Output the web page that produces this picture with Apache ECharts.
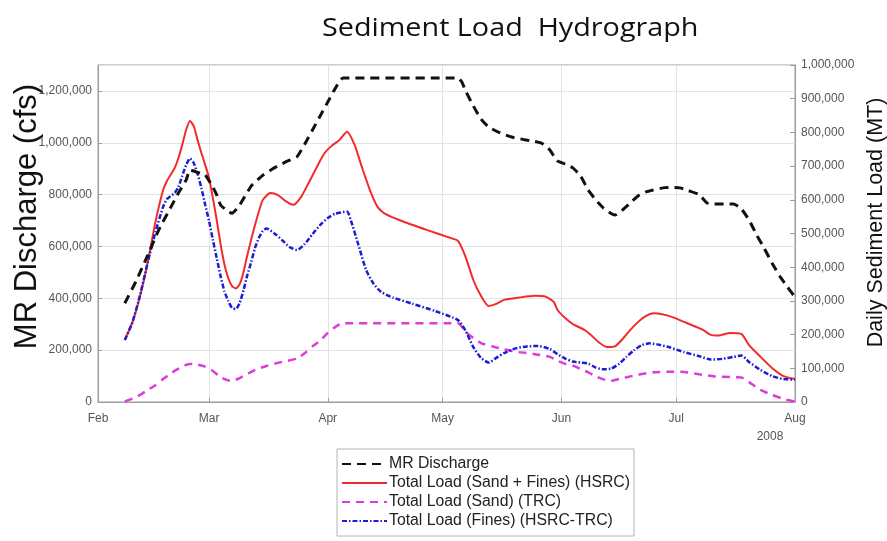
<!DOCTYPE html>
<html>
<head>
<meta charset="utf-8">
<title>Sediment Load Hydrograph</title>
<script src="https://cdn.jsdelivr.net/npm/echarts@6/dist/echarts.min.js"></script>
<style>
  html, body { margin: 0; padding: 0; background: #ffffff; }
  #chart { width: 887px; height: 541px; }
</style>
</head>
<body>
<div id="chart"></div>
<script>
// Month boundaries for the x axis (2008) and their labels
const monthTicks = ['2008-02-01', '2008-03-01', '2008-04-01', '2008-05-01', '2008-06-01', '2008-07-01', '2008-08-01'];
const monthLabels = ['Feb', 'Mar', 'Apr', 'May', 'Jun', 'Jul', 'Aug'];
const yearLabel = '2008';
const chartTitle = 'Sediment Load  Hydrograph';

// Mississippi River discharge (cfs), left axis
const mrDischarge = [
  ['2008-02-08', 381000], ['2008-02-11', 468000], ['2008-02-14', 567000], ['2008-02-17', 668000],
  ['2008-02-20', 751000], ['2008-02-22', 806000], ['2008-02-24', 856000], ['2008-02-25', 895000],
  ['2008-02-26', 891000], ['2008-02-28', 881000], ['2008-02-29', 876000], ['2008-03-02', 829000],
  ['2008-03-03', 799000], ['2008-03-04', 760000], ['2008-03-06', 735000], ['2008-03-07', 728000],
  ['2008-03-09', 760000], ['2008-03-12', 833000], ['2008-03-15', 874000], ['2008-03-18', 903000],
  ['2008-03-21', 926000], ['2008-03-24', 947000], ['2008-03-26', 995000], ['2008-03-28', 1049000],
  ['2008-03-30', 1103000], ['2008-04-01', 1157000], ['2008-04-03', 1211000], ['2008-04-05', 1250000],
  ['2008-05-05', 1250000], ['2008-05-06', 1234000], ['2008-05-07', 1200000], ['2008-05-09', 1142000],
  ['2008-05-11', 1092000], ['2008-05-13', 1061000], ['2008-05-16', 1038000], ['2008-05-19', 1022000],
  ['2008-05-22', 1013000], ['2008-05-25', 1005000], ['2008-05-27', 997000], ['2008-05-29', 972000],
  ['2008-05-30', 949000], ['2008-05-31', 930000], ['2008-06-02', 918000], ['2008-06-04', 903000],
  ['2008-06-06', 872000], ['2008-06-08', 818000], ['2008-06-10', 779000], ['2008-06-12', 748000],
  ['2008-06-14', 727000], ['2008-06-15', 721000], ['2008-06-17', 741000], ['2008-06-19', 768000],
  ['2008-06-21', 795000], ['2008-06-23', 810000], ['2008-06-25', 818000], ['2008-06-28', 827000],
  ['2008-06-30', 828000], ['2008-07-02', 826000], ['2008-07-04', 816000], ['2008-07-07', 800000],
  ['2008-07-09', 768000], ['2008-07-11', 764000], ['2008-07-14', 764000], ['2008-07-16', 764000],
  ['2008-07-18', 745000], ['2008-07-20', 702000], ['2008-07-22', 644000], ['2008-07-24', 592000],
  ['2008-07-26', 536000], ['2008-07-28', 486000], ['2008-07-30', 444000], ['2008-08-01', 405000]
];

// Total load, sand + fines (HSRC), metric tons per day, right axis
const totalLoadHSRC = [
  ['2008-02-08', 184000], ['2008-02-10', 237000], ['2008-02-12', 315000], ['2008-02-14', 415000],
  ['2008-02-16', 534000], ['2008-02-18', 629000], ['2008-02-19', 656000], ['2008-02-21', 694000],
  ['2008-02-22', 724000], ['2008-02-23', 763000], ['2008-02-24', 807000], ['2008-02-25', 834000],
  ['2008-02-26', 819000], ['2008-02-27', 777000], ['2008-02-28', 739000], ['2008-02-29', 703000],
  ['2008-03-01', 665000], ['2008-03-02', 605000], ['2008-03-03', 540000], ['2008-03-04', 469000],
  ['2008-03-05', 409000], ['2008-03-06', 368000], ['2008-03-07', 344000], ['2008-03-08', 337000],
  ['2008-03-09', 350000], ['2008-03-10', 386000], ['2008-03-11', 436000], ['2008-03-13', 525000],
  ['2008-03-15', 599000], ['2008-03-17', 620000], ['2008-03-19', 614000], ['2008-03-21', 596000],
  ['2008-03-23', 585000], ['2008-03-25', 608000], ['2008-03-27', 650000], ['2008-03-29', 694000],
  ['2008-03-31', 736000], ['2008-04-02', 760000], ['2008-04-04', 777000], ['2008-04-06', 802000],
  ['2008-04-08', 763000], ['2008-04-10', 694000], ['2008-04-12', 629000], ['2008-04-14', 579000],
  ['2008-04-16', 558000], ['2008-04-21', 534000], ['2008-04-27', 510000], ['2008-05-03', 487000],
  ['2008-05-05', 478000], ['2008-05-07', 430000], ['2008-05-09', 362000], ['2008-05-11', 315000],
  ['2008-05-13', 285000], ['2008-05-15', 291000], ['2008-05-17', 303000], ['2008-05-21', 310000],
  ['2008-05-25', 315000], ['2008-05-28', 312000], ['2008-05-30', 297000], ['2008-05-31', 273000],
  ['2008-06-02', 249000], ['2008-06-04', 231000], ['2008-06-07', 214000], ['2008-06-09', 196000],
  ['2008-06-11', 175000], ['2008-06-13', 163000], ['2008-06-15', 165000], ['2008-06-17', 187000],
  ['2008-06-19', 214000], ['2008-06-21', 237000], ['2008-06-23', 255000], ['2008-06-25', 263000],
  ['2008-06-27', 261000], ['2008-06-30', 252000], ['2008-07-04', 233000], ['2008-07-08', 214000],
  ['2008-07-10', 199000], ['2008-07-12', 197000], ['2008-07-15', 205000], ['2008-07-18', 202000],
  ['2008-07-20', 169000], ['2008-07-23', 134000], ['2008-07-26', 101000], ['2008-07-29', 77000],
  ['2008-08-01', 68000]
];

// Total load, sand only (TRC), right axis
const totalLoadSandTRC = [
  ['2008-02-08', 2000], ['2008-02-10', 10000], ['2008-02-12', 21000], ['2008-02-14', 36000],
  ['2008-02-16', 50000], ['2008-02-18', 68000], ['2008-02-20', 85000], ['2008-02-22', 99000],
  ['2008-02-24', 110000], ['2008-02-25', 113000], ['2008-02-27', 111000], ['2008-02-29', 105000],
  ['2008-03-02', 92000], ['2008-03-04', 74000], ['2008-03-06', 64000], ['2008-03-07', 62000],
  ['2008-03-09', 71000], ['2008-03-11', 83000], ['2008-03-13', 95000], ['2008-03-16', 107000],
  ['2008-03-20', 119000], ['2008-03-24', 129000], ['2008-03-26', 145000], ['2008-03-28', 165000],
  ['2008-03-30', 182000], ['2008-04-01', 205000], ['2008-04-03', 223000], ['2008-04-05', 234000],
  ['2008-05-05', 234000], ['2008-05-07', 208000], ['2008-05-09', 190000], ['2008-05-11', 175000],
  ['2008-05-14', 165000], ['2008-05-17', 156000], ['2008-05-21', 148000], ['2008-05-25', 142000],
  ['2008-05-29', 134000], ['2008-05-31', 122000], ['2008-06-02', 113000], ['2008-06-04', 108000],
  ['2008-06-06', 98000], ['2008-06-08', 88000], ['2008-06-10', 76000], ['2008-06-12', 67000],
  ['2008-06-14', 63000], ['2008-06-16', 68000], ['2008-06-19', 76000], ['2008-06-22', 83000],
  ['2008-06-25', 88000], ['2008-06-29', 90000], ['2008-07-03', 89000], ['2008-07-07', 82000],
  ['2008-07-11', 76000], ['2008-07-15', 74000], ['2008-07-18', 73000], ['2008-07-20', 59000],
  ['2008-07-23', 36000], ['2008-07-26', 21000], ['2008-07-29', 9000], ['2008-08-01', 1000]
];

// Total load, fines only (HSRC - TRC), right axis
const totalLoadFines = [
  ['2008-02-08', 184000], ['2008-02-10', 237000], ['2008-02-12', 318000], ['2008-02-14', 415000],
  ['2008-02-16', 504000], ['2008-02-18', 579000], ['2008-02-19', 602000], ['2008-02-21', 620000],
  ['2008-02-22', 638000], ['2008-02-23', 671000], ['2008-02-24', 703000], ['2008-02-25', 723000],
  ['2008-02-26', 709000], ['2008-02-27', 677000], ['2008-02-28', 635000], ['2008-02-29', 585000],
  ['2008-03-01', 537000], ['2008-03-02', 481000], ['2008-03-03', 427000], ['2008-03-04', 374000],
  ['2008-03-05', 329000], ['2008-03-06', 300000], ['2008-03-07', 279000], ['2008-03-08', 276000],
  ['2008-03-09', 294000], ['2008-03-10', 332000], ['2008-03-11', 377000], ['2008-03-12', 415000],
  ['2008-03-13', 457000], ['2008-03-14', 487000], ['2008-03-15', 507000], ['2008-03-16', 515000],
  ['2008-03-18', 501000], ['2008-03-20', 481000], ['2008-03-22', 460000], ['2008-03-24', 451000],
  ['2008-03-26', 469000], ['2008-03-28', 498000], ['2008-03-30', 525000], ['2008-04-01', 546000],
  ['2008-04-03', 559000], ['2008-04-06', 565000], ['2008-04-07', 540000], ['2008-04-09', 466000],
  ['2008-04-11', 392000], ['2008-04-13', 350000], ['2008-04-15', 326000], ['2008-04-18', 310000],
  ['2008-04-23', 292000], ['2008-04-29', 270000], ['2008-05-05', 243000], ['2008-05-07', 211000],
  ['2008-05-09', 163000], ['2008-05-11', 131000], ['2008-05-13', 117000], ['2008-05-15', 131000],
  ['2008-05-17', 145000], ['2008-05-20', 159000], ['2008-05-23', 165000], ['2008-05-26', 166000],
  ['2008-05-29', 157000], ['2008-05-31', 142000], ['2008-06-02', 129000], ['2008-06-04', 120000],
  ['2008-06-06', 117000], ['2008-06-08', 114000], ['2008-06-10', 102000], ['2008-06-12', 97000],
  ['2008-06-14', 99000], ['2008-06-16', 113000], ['2008-06-18', 134000], ['2008-06-20', 154000],
  ['2008-06-22', 169000], ['2008-06-24', 174000], ['2008-06-26', 171000], ['2008-06-29', 163000],
  ['2008-07-03', 148000], ['2008-07-07', 136000], ['2008-07-10', 126000], ['2008-07-13', 128000],
  ['2008-07-16', 134000], ['2008-07-18', 138000], ['2008-07-20', 119000], ['2008-07-23', 95000],
  ['2008-07-26', 77000], ['2008-07-29', 68000], ['2008-08-01', 67000]
];

const FONT = '"Liberation Sans", Arial, Helvetica, sans-serif';
const AXIS_GREY = '#9c9c9c';
const GRID_GREY = '#e3e3e3';
const LABEL_GREY = '#555555';

// Dates become millisecond timestamps on a numeric x axis so month ticks can sit on the 1st
const toTime = function (s) { return +echarts.time.parse(s); };
const toPoints = function (rows) { return rows.map(function (r) { return [toTime(r[0]), r[1]]; }); };
const tickTimes = monthTicks.map(toTime);
const withCommas = function (v) { return Math.round(v).toLocaleString('en-US'); };
const monthFormatter = function (v) {
  let best = 0;
  for (let i = 1; i < tickTimes.length; i++) {
    if (Math.abs(tickTimes[i] - v) < Math.abs(tickTimes[best] - v)) best = i;
  }
  return monthLabels[best];
};

const chart = echarts.init(document.getElementById('chart'), null, { renderer: 'canvas' });

chart.setOption({
  backgroundColor: '#ffffff',
  animation: false,
  grid: {
    left: 98, right: 92, top: 65, bottom: 139,
    show: true, borderColor: AXIS_GREY, borderWidth: 1,
    containLabel: false, outerBoundsMode: 'none'
  },
  legend: {
    orient: 'vertical',
    left: 337,
    top: 449,
    itemWidth: 45,
    itemHeight: 16,
    itemGap: 3,
    padding: [7, 4, 7, 4],
    borderColor: '#b4b4b4',
    borderWidth: 1,
    backgroundColor: '#ffffff',
    itemStyle: { opacity: 0 },
    textStyle: { fontFamily: FONT, fontSize: 15.8, color: '#222222', lineHeight: 16, padding: [0, 0, 0, -3] },
    data: ['MR Discharge', 'Total Load (Sand + Fines) (HSRC)', 'Total Load (Sand) (TRC)', 'Total Load (Fines) (HSRC-TRC)']
  },
  xAxis: {
    type: 'value',
    min: tickTimes[0],
    max: tickTimes[tickTimes.length - 1],
    axisLine: { show: true, onZero: false, lineStyle: { color: AXIS_GREY } },
    axisTick: { show: true, inside: true, length: 4, customValues: tickTimes, lineStyle: { color: AXIS_GREY } },
    axisLabel: {
      customValues: tickTimes, formatter: monthFormatter, hideOverlap: false,
      color: LABEL_GREY, fontFamily: FONT, fontSize: 12, margin: 11
    },
    splitLine: { show: true, lineStyle: { color: GRID_GREY } },
    minorTick: { show: false }
  },
  yAxis: [
    {
      type: 'value', position: 'left', min: 0, max: 1300000, interval: 200000,
      name: 'MR Discharge (cfs)', nameLocation: 'middle', nameRotate: 90, nameGap: 55, nameMoveOverlap: false,
      nameTextStyle: { fontFamily: FONT, fontSize: 31, color: '#111111', padding: [0, 0, 0, 34] },
      axisLine: { show: true, lineStyle: { color: AXIS_GREY } },
      axisTick: { show: true, inside: true, length: 4, lineStyle: { color: AXIS_GREY } },
      axisLabel: { color: LABEL_GREY, fontFamily: FONT, fontSize: 12, margin: 6, showMaxLabel: false, formatter: withCommas },
      splitLine: { show: true, lineStyle: { color: GRID_GREY } }
    },
    {
      type: 'value', position: 'right', min: 0, max: 1000000, interval: 100000,
      name: 'Daily Sediment Load (MT)', nameLocation: 'middle', nameRotate: 90, nameGap: 65,
      nameTextStyle: { fontFamily: FONT, fontSize: 21.5, color: '#111111', padding: [0, 0, 0, 22] },
      axisLine: { show: true, lineStyle: { color: AXIS_GREY } },
      axisTick: { show: true, inside: true, length: 5, lineStyle: { color: AXIS_GREY } },
      axisLabel: { color: LABEL_GREY, fontFamily: FONT, fontSize: 12, margin: 6, formatter: withCommas },
      splitLine: { show: false }
    }
  ],
  graphic: [
    {
      type: 'text', x: 322, y: 29, scaleX: 1.15,
      style: { text: chartTitle, fill: '#111111', font: '25px "Open Sans", "Noto Sans", sans-serif', align: 'left', verticalAlign: 'middle' }
    },
    {
      type: 'text', x: 770, y: 437,
      style: { text: yearLabel, fill: LABEL_GREY, font: '12px "Liberation Sans", Arial, sans-serif', align: 'center', verticalAlign: 'middle' }
    }
  ],
  series: [
    {
      name: 'MR Discharge', type: 'line', yAxisIndex: 0, data: toPoints(mrDischarge),
      symbol: 'none', showSymbol: false, smooth: 0.15, z: 4,
      lineStyle: { color: '#111111', width: 3, type: [9, 6] }, itemStyle: { color: '#111111' }
    },
    {
      name: 'Total Load (Sand + Fines) (HSRC)', type: 'line', yAxisIndex: 1, data: toPoints(totalLoadHSRC),
      symbol: 'none', showSymbol: false, smooth: 0.2, z: 3,
      lineStyle: { color: '#f22a2a', width: 2 }, itemStyle: { color: '#f22a2a' }
    },
    {
      name: 'Total Load (Sand) (TRC)', type: 'line', yAxisIndex: 1, data: toPoints(totalLoadSandTRC),
      symbol: 'none', showSymbol: false, smooth: 0.2, z: 3,
      lineStyle: { color: '#dd3cdd', width: 2.5, type: [8, 6] }, itemStyle: { color: '#dd3cdd' }
    },
    {
      name: 'Total Load (Fines) (HSRC-TRC)', type: 'line', yAxisIndex: 1, data: toPoints(totalLoadFines),
      symbol: 'none', showSymbol: false, smooth: 0.2, z: 3,
      lineStyle: { color: '#1c1cd2', width: 2.5, type: [5, 2, 1.5, 2] }, itemStyle: { color: '#1c1cd2' }
    }
  ]
});
</script>
</body>
</html>
